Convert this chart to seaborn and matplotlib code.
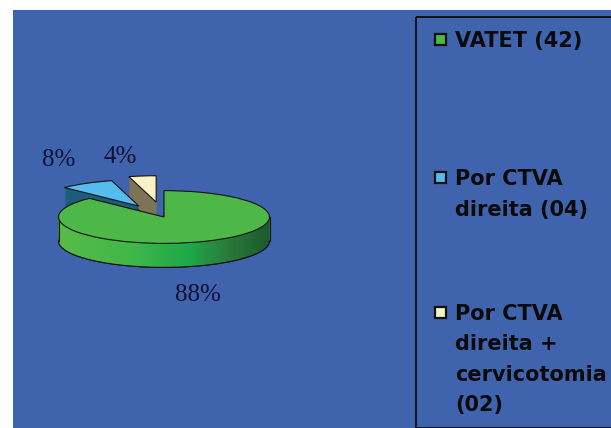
import numpy as np
import matplotlib
matplotlib.use("Agg")
import matplotlib.pyplot as plt
import seaborn as sns
from matplotlib.patches import Rectangle, Polygon
from matplotlib.colors import LinearSegmentedColormap

# ---- data ----
categories = ["VATET (42)", "Por CTVA\ndireita (04)", "Por CTVA\ndireita +\ncervicotomia\n(02)"]
counts = [42, 4, 2]
top_colors = ["#4DB848", "#55BDEB", "#F8F3C6"]
side_colors = ["#2E8F3E", "#1D5C7C", "#7D7458"]

sns.set_style("white")
plt.rcParams["font.family"] = ["DejaVu Sans"]

W, H = 611, 428
fig = plt.figure(figsize=(W / 100, H / 100), dpi=100, facecolor="white")

# background / frame axes in pixel coords
bg = fig.add_axes([0, 0, 1, 1], zorder=0)
bg.set_xlim(0, W)
bg.set_ylim(H, 0)
bg.axis("off")
bg.add_patch(Rectangle((13, 10), W - 13, H - 10, facecolor="#4063AE", edgecolor="none"))
bg.add_patch(Rectangle((416, 17), 200, 410.5, facecolor="none", edgecolor="#111111", lw=1.4))

# ---- squashed "3D" pie ----
s = 0.25                      # vertical squash
ax = fig.add_axes([0, 0, 1, 1], zorder=1)
ax.patch.set_visible(False)
cx, cy_img = 164, 217
R = 105.5
thick = 24.0
def ydata(yimg):
    return (H - yimg) / s
cy = ydata(cy_img)
explode = [0, 50, 60]
pie_kw = dict(explode=explode, startangle=90, counterclock=False, radius=R, frame=True)

nl = 24
for i in range(nl):
    y0 = cy - (thick - i) / s
    ax.pie(counts, colors=side_colors, center=(cx, y0),
           wedgeprops=dict(edgecolor="#111111" if i == 0 else "none",
                           linewidth=0.8, zorder=1), **pie_kw)

# gradient on green front side
th = np.linspace(np.pi, 2 * np.pi, 200)
ybot = cy - thick / s
pts = np.concatenate([
    np.column_stack([cx + R * np.cos(th), cy + R * np.sin(th)]),
    np.column_stack([cx + R * np.cos(th[::-1]), ybot + R * np.sin(th[::-1])]),
])
poly = Polygon(pts, closed=True, facecolor="none", edgecolor="none", transform=ax.transData)
ax.add_patch(poly)
cmap = LinearSegmentedColormap.from_list(
    "g", [(0, "#58BC4A"), (0.35, "#40B649"), (0.62, "#1FA84A"), (0.8, "#2B7A3A"), (1.0, "#1B5A2E")])
grad = np.tile(np.linspace(0, 1, 256), (2, 1))
im = ax.imshow(grad, extent=[cx - R, cx + R, ybot - R, cy + R], aspect="auto",
               cmap=cmap, origin="lower", zorder=2)
im.set_clip_path(poly)
ax.plot(cx + R * np.cos(th), ybot + R * np.sin(th), color="#111111", lw=0.8, zorder=2.5)
for xe in (cx - R, cx + R):
    ax.plot([xe, xe], [ybot, cy], color="#111111", lw=0.8, zorder=2.5)

ax.pie(counts, colors=top_colors, center=(cx, cy),
       wedgeprops=dict(edgecolor="#111111", linewidth=0.8, zorder=3), **pie_kw)

ax.set_aspect("auto")
ax.set_xlim(0, W)
ax.set_ylim(0, H / s)
ax.axis("off")

# percentage labels
total = sum(counts)
pct = [f"{round(100 * c / total)}%" for c in counts]
label_pos = [(198, 295), (59, 160), (120, 157)]
for p, (lx, ly) in zip(pct, label_pos):
    fig.text(lx, ly, p, transform=bg.transData, ha="center", va="center",
             fontsize=18, family="Liberation Serif", color="#0B1230", zorder=5)

# legend (manual, to match wide spacing)
first_base = [47, 185, 320]
line_step = 30.5
for cat, col, yb in zip(categories, top_colors, first_base):
    bg.add_patch(Rectangle((434.5, yb - 13.5), 11, 11, facecolor=col,
                           edgecolor="#111111", lw=1.6, zorder=4))
    for j, line in enumerate(cat.split("\n")):
        fig.text(455, yb + j * line_step, line, transform=bg.transData,
                 ha="left", va="baseline", fontsize=15, fontweight="heavy",
                 color="#0A0A0A", zorder=5)

fig.savefig("out.png", dpi=100, facecolor="white")
